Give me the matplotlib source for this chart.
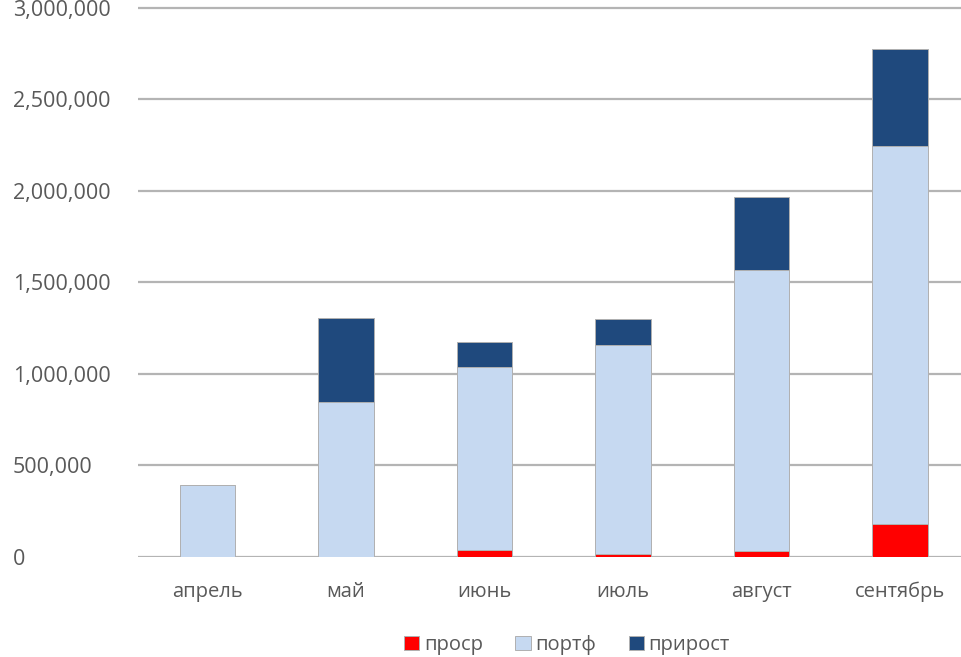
import numpy as np
import matplotlib
matplotlib.use("Agg")
import matplotlib.pyplot as plt
from matplotlib.ticker import FuncFormatter

# data
months = ["апрель", "май", "июнь", "июль", "август", "сентябрь"]
prosr = [0, 0, 37000, 15000, 31000, 181000]
portf = [395000, 849000, 999000, 1141000, 1536000, 2066000]
prirost = [0, 455000, 137000, 143000, 400000, 527000]
series_names = ["проср", "портф", "прирост"]
series_colors = ["#ff0000", "#c6d9f1", "#1f497d"]

plt.rcParams["font.family"] = ["Open Sans", "DejaVu Sans"]
text_color = "#595959"
grid_color = "#b4b4b4"

fig = plt.figure(figsize=(9.62, 6.57), dpi=100)
ax = fig.add_axes([138 / 962, 1 - 557 / 657, 831.5 / 962, 554.5 / 657])

x = np.arange(len(months))
bottom = np.zeros(len(months))
for name, vals, col in zip(series_names, [prosr, portf, prirost], series_colors):
    vals = np.array(vals, dtype=float)
    ax.bar(x, vals, width=0.4, bottom=bottom, color=col, label=name,
           edgecolor="#b0b0b0", linewidth=0.7, zorder=3)
    bottom += vals

ax.set_xlim(-0.5, len(months) - 0.5)
ax.set_ylim(0, 3.03e6)
ax.set_yticks(np.arange(0, 3000001, 500000))
ax.yaxis.set_major_formatter(FuncFormatter(lambda v, p: f"{int(v):,}"))
ax.grid(axis="y", color=grid_color, linewidth=1.6, zorder=0)
ax.set_axisbelow(True)
for s in ax.spines.values():
    s.set_visible(False)

ax.set_xticks(x)
ax.set_xticklabels(months)
ax.tick_params(axis="x", length=0, pad=18, labelsize=14.5, labelcolor=text_color)
ax.tick_params(axis="y", length=0, pad=90, labelsize=15.5, labelcolor=text_color)
for lab in ax.get_yticklabels():
    lab.set_horizontalalignment("left")

fig.legend(loc="center", bbox_to_anchor=(567 / 962, 1 - 645 / 657), ncol=3,
           frameon=False, fontsize=14.5, labelcolor=text_color,
           handlelength=0.75, handleheight=0.75, handletextpad=0.25,
           columnspacing=1.6)

fig.savefig("out.png", dpi=100)
